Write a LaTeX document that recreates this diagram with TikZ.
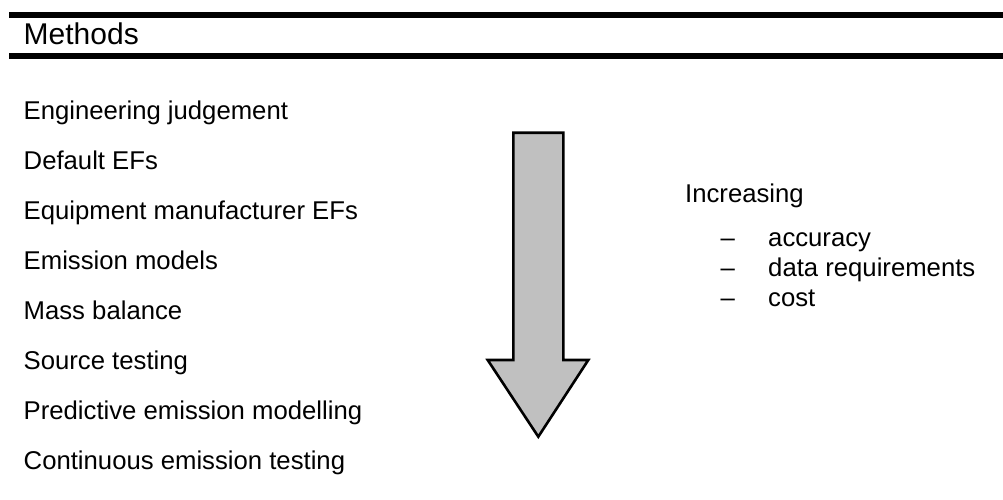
\documentclass[tikz,border=0pt]{standalone}
\usepackage{fontspec}
\setmainfont{Liberation Sans}
\begin{document}
\begin{tikzpicture}[x=1pt,y=-1pt,
  bar/.style={line width=6pt},
  item/.style={anchor=base west,inner sep=0pt,font=\fontsize{25.7}{30}\selectfont},
  title/.style={anchor=base west,inner sep=0pt,font=\fontsize{30}{36}\selectfont},
  bigarrow/.style={draw=black,line width=2.6pt,fill={rgb,255:red,192;green,192;blue,192},line join=miter}]
\useasboundingbox (0,0) rectangle (1003,499);
\coordinate (t1) at (9,15); \coordinate (t2) at (1003,15);
\coordinate (b1) at (9,56); \coordinate (b2) at (1003,56);
\draw[bar] (t1) -- (t2);
\draw[bar] (b1) -- (b2);
\node[title] (methods) at (23.5,44) {Methods};
\node[item] (m1) at (23.5,119) {Engineering judgement};
\node[item] (m2) at (23.5,169) {Default EFs};
\node[item] (m3) at (23.5,219) {Equipment manufacturer EFs};
\node[item] (m4) at (23.5,269) {Emission models};
\node[item] (m5) at (23.5,319) {Mass balance};
\node[item] (m6) at (23.5,369) {Source testing};
\node[item] (m7) at (23.5,419) {Predictive emission modelling};
\node[item] (m8) at (23.5,469) {Continuous emission testing};
\draw[bigarrow] (513.3,132.7) -- (563.3,132.7) -- (563.3,360) -- (588.3,360) -- (538.3,436.7) -- (487.7,360) -- (513.3,360) -- cycle;
\node[item] (inc) at (685,202) {Increasing};
\node[item] (d1) at (720.5,246) {–};
\node[item] (d2) at (720.5,276) {–};
\node[item] (d3) at (720.5,306) {–};
\node[item] (r1) at (768,246) {accuracy};
\node[item] (r2) at (768,276) {data requirements};
\node[item] (r3) at (768,306) {cost};
\end{tikzpicture}
\end{document}
